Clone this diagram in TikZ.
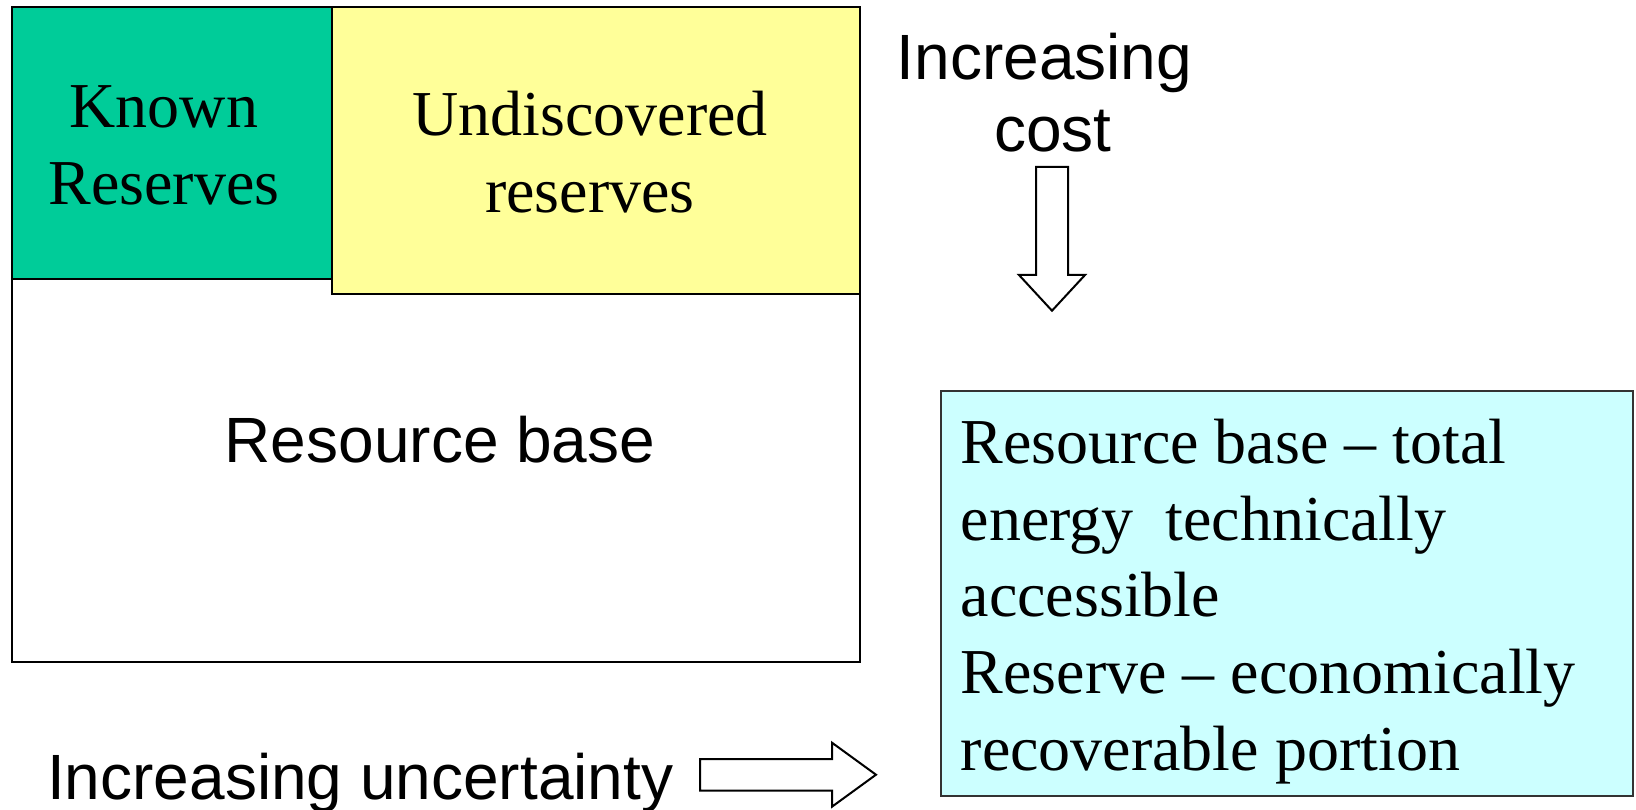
\documentclass[tikz,border=0pt]{standalone}
\usepackage{fontspec}
\setmainfont{Liberation Serif}
\setsansfont{Liberation Sans}
\definecolor{knowngreen}{HTML}{00CC99}
\definecolor{undisyellow}{HTML}{FFFF99}
\definecolor{notecyan}{HTML}{CCFFFF}
\definecolor{noteborder}{HTML}{333333}
\tikzset{
  boxline/.style={draw=black, line width=2pt},
  blockarrow/.style={draw=black, fill=white, line width=2pt, line join=miter},
  serifbig/.style={inner sep=0pt, font=\fontsize{64}{76.7}\selectfont},
  sansbig/.style={inner sep=0pt, font=\sffamily\fontsize{64}{71.7}\selectfont},
}
\begin{document}
\begin{tikzpicture}[x=1pt,y=-1pt]
\useasboundingbox (0,0) rectangle (1636,810);
% resource base outer box
\draw[boxline, fill=white] (11.5,7.3) rectangle (860,661.5);
% undiscovered reserves
\draw[boxline, fill=undisyellow] (331.8,7.3) rectangle (860,294.3);
% known reserves
\draw[boxline, fill=knowngreen] (11.5,7.3) rectangle (331.8,278.6);
% note box
\draw[draw=noteborder, line width=2pt, fill=notecyan] (940.5,391) rectangle (1632.5,795.5);

\node[serifbig, anchor=base] (known) at (164,127.7)
  {\parbox[t]{300pt}{\centering Known\\Reserves}};
\node[serifbig, anchor=base] (undis) at (590,136)
  {\parbox[t]{500pt}{\centering Undiscovered\\reserves}};
\node[sansbig, anchor=base] (base) at (440,462.7) {Resource base};
\node[sansbig, anchor=base] (cost) at (1053,80)
  {\parbox[t]{400pt}{\centering Increasing\hspace*{17pt}\mbox{}\\cost}};
\node[sansbig, anchor=base west] (uncert) at (47,799) {Increasing uncertainty};
\node[serifbig, anchor=base west] (note) at (960.5,463.3)
  {\parbox[t]{680pt}{\raggedright Resource base – total\\energy\ \ technically\\accessible\\Reserve – economically\\recoverable portion}};

% down arrow (increasing cost)
\draw[blockarrow] (1036,167) -- (1068,167) -- (1068,275) -- (1085,275) -- (1052,310.7)
  -- (1019,275) -- (1036,275) -- cycle;
% right arrow (increasing uncertainty)
\draw[blockarrow] (700,759) -- (832,759) -- (832,742.7) -- (876,774.7) -- (832,806.7)
  -- (832,790.7) -- (700,790.7) -- cycle;
\end{tikzpicture}
\end{document}
